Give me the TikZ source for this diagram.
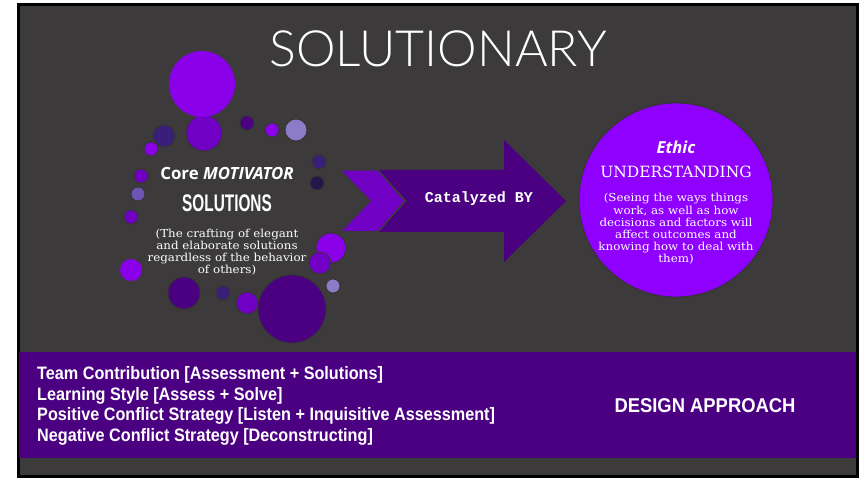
\documentclass[tikz,border=0pt]{standalone}
\usepackage{fontspec}
\setmainfont[FakeStretch=1.08]{DejaVu Serif}
\newfontfamily\plainserif{DejaVu Serif}
\newfontfamily\titlefont{Lato Light}
\newfontfamily\headfont{Open Sans}
\newfontfamily\condfont[FakeStretch=0.64]{Liberation Sans}
\newfontfamily\bandfont[FakeStretch=0.9]{Liberation Sans}
\newfontfamily\approachfont[FakeStretch=0.92]{Liberation Sans}
\newfontfamily\monofont{Liberation Mono}
\usetikzlibrary{positioning,calc}

\definecolor{bggray}{HTML}{3C3A3B}
\definecolor{brightviolet}{HTML}{8F00FF}
\definecolor{bubbleviolet}{HTML}{8A00E8}
\definecolor{midviolet}{HTML}{7000C4}
\definecolor{indigo}{HTML}{4B0082}
\definecolor{darkindigo}{HTML}{3A1F78}
\definecolor{navy}{HTML}{24184A}
\definecolor{lavender}{HTML}{8C7CC8}
\definecolor{paleviolet}{HTML}{6E55B5}

\begin{document}
\begin{tikzpicture}[x=1pt,y=-1pt,
    bubble/.style={circle, draw=black!80, line width=0.8pt, inner sep=0pt},
    plaintext/.style={text=white, inner sep=0pt, align=center},
    band/.style={rectangle, fill=indigo, inner sep=0pt, minimum width=837pt, minimum height=106pt}
]
\useasboundingbox (0,0) rectangle (861,478);

% Frame
\draw[black, line width=3pt, fill=bggray] (18,5) rectangle (857,476);

% Title
\node[plaintext, font=\titlefont\fontsize{50}{50}\selectfont] (title) at (438,49) {SOLUTIONARY};

% Bubbles
\foreach \x/\y/\r/\c [count=\i] in {
    204/133/18/midviolet, 164/136/11/darkindigo, 151/149/7/bubbleviolet,
    247/123/7/indigo, 272/130/7/bubbleviolet, 296/130/11/lavender,
    319/162/7/darkindigo, 317/183/7/navy, 141/176/7/midviolet,
    138/194/7/paleviolet, 131/217/7/midviolet, 331/248/15/bubbleviolet,
    320/263/11/midviolet, 333/286/7/lavender, 184/293/16/indigo,
    223/293/7/darkindigo, 247/303/11/midviolet, 292/309/34/indigo}
  \node[bubble, fill=\c, minimum size=2*\r pt] (b\i) at (\x,\y) {};
\node[circle, fill=bubbleviolet, inner sep=0pt, minimum size=66pt] (bigbubble) at (202,84) {};
\node[circle, fill=bubbleviolet, inner sep=0pt, minimum size=22pt] (leftbubble) at (131,270) {};

% Core motivator
\node[plaintext, font=\headfont\bfseries\fontsize{16.8}{16.8}\selectfont] (core) at (227,173) {Core \textit{MOTIVATOR}};
\node[plaintext, font=\condfont\bfseries\fontsize{24}{24}\selectfont] (solutions) at (227,203) {SOLUTIONS};
\node[plaintext, font=\fontsize{11}{12.2}\selectfont] (coredesc) at (227,252)
    {(The crafting of elegant\\and elaborate solutions\\regardless of the behavior\\of others)};

% Arrow
\fill[indigo] (378,170) -- (504,170) -- (504,140) -- (566,201) -- (504,262)
    -- (504,232) -- (378,232) -- (407,201) -- cycle;
\filldraw[midviolet, draw=bggray, line width=1.5pt] (340,170) -- (378,170) -- (405,201)
    -- (378,232) -- (340,232) -- (370,201) -- cycle;
\node[plaintext, font=\monofont\bfseries\fontsize{15}{15}\selectfont] (catalyzed) at (479,199) {Catalyzed BY};

% Ethic
\node[circle, fill=brightviolet, draw=black!80, line width=0.8pt, inner sep=0pt, minimum size=194pt] (ethic) at (676,200) {};
\node[plaintext, font=\headfont\bfseries\itshape\fontsize{16.5}{16.5}\selectfont] (ethictitle) at (676,147) {Ethic};
\node[plaintext, font=\plainserif\fontsize{15.5}{15.5}\selectfont] (understanding) at (676,172) {UNDERSTANDING};
\node[plaintext, font=\fontsize{11}{12.2}\selectfont] (ethicdesc) at (676,229)
    {(Seeing the ways things\\work, as well as how\\decisions and factors will\\affect outcomes and\\knowing how to deal with\\them)};

% Design approach
\node[band] (band) at (437.5,405) {};
\node[plaintext, align=left, anchor=west, font=\bandfont\bfseries\fontsize{18}{20.7}\selectfont] (traits) at (37,406)
    {Team Contribution [Assessment + Solutions]\\
     Learning Style [Assess + Solve]\\
     Positive Conflict Strategy [Listen + Inquisitive Assessment]\\
     Negative Conflict Strategy [Deconstructing]};
\node[plaintext, font=\approachfont\bfseries\fontsize{20}{20}\selectfont] (approach) at (705,406) {DESIGN APPROACH};

\end{tikzpicture}
\end{document}
